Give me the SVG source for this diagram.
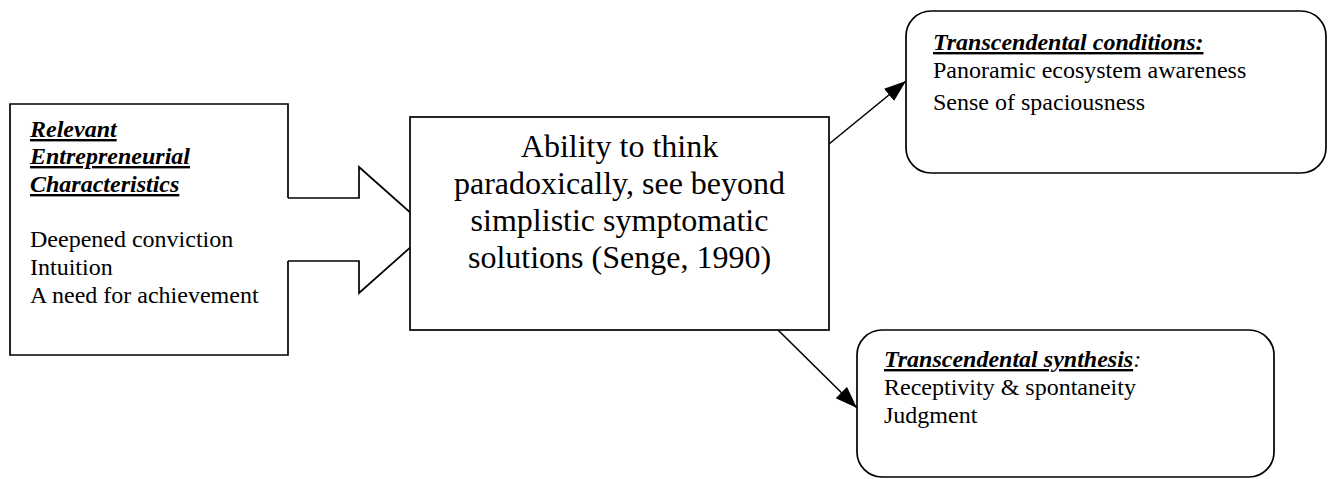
<svg xmlns="http://www.w3.org/2000/svg" width="1328" height="479" viewBox="0 0 1328 479">
  <style>
    text { font-family: "Liberation Serif", "Times New Roman", serif; fill: #000; }
    .body { font-size: 24px; }
    .head { font-size: 24px; font-weight: bold; font-style: italic; }
    .ul { text-decoration: underline; }
    .big { font-size: 32px; text-anchor: middle; }
    .frame { fill: #fff; stroke: #000; stroke-width: 1.7; }
    .edge { fill: none; stroke: #000; stroke-width: 1.6; }
  </style>
  <defs>
    <marker id="arrow" markerUnits="userSpaceOnUse" markerWidth="24" markerHeight="18" refX="22" refY="8" orient="auto">
      <path d="M0,0 L22,8 L0,16 z" fill="#000"/>
    </marker>
  </defs>

  <rect width="1328" height="479" fill="#fff"/>

  <!-- connectors -->
  <g id="connectors">
    <path id="block-arrow" d="M288,198 H359 V167 L430,230 L359,293 V261 H288" fill="#fff" stroke="#000" stroke-width="1.7" stroke-linejoin="miter"/>
    <line class="edge" x1="818" y1="153" x2="906" y2="81" marker-end="url(#arrow)"/>
    <line class="edge" x1="778" y1="330" x2="857" y2="408" marker-end="url(#arrow)"/>
  </g>

  <!-- left box: entrepreneurial characteristics -->
  <g id="characteristics">
    <path class="frame" d="M288,198 V104 H10 V355 H288 V261"/>
    <text class="head ul" x="30" y="137">Relevant</text>
    <text class="head ul" x="30" y="164">Entrepreneurial</text>
    <text class="head ul" x="30" y="192">Characteristics</text>
    <text class="body" x="30" y="247">Deepened conviction</text>
    <text class="body" x="30" y="275">Intuition</text>
    <text class="body" x="30" y="303">A need for achievement</text>
  </g>

  <!-- central box -->
  <g id="paradox">
    <rect class="frame" x="410" y="117" width="419" height="213"/>
    <text class="big" x="619.5" y="157">Ability to think</text>
    <text class="big" x="619.5" y="194">paradoxically, see beyond</text>
    <text class="big" x="619.5" y="231">simplistic symptomatic</text>
    <text class="big" x="619.5" y="268">solutions (Senge, 1990)</text>
  </g>

  <!-- upper right: transcendental conditions -->
  <g id="conditions">
    <rect class="frame" x="906" y="11" width="420" height="162" rx="25" ry="25"/>
    <text class="head ul" x="933" y="50">Transcendental conditions:</text>
    <text class="body" x="933" y="78">Panoramic ecosystem awareness</text>
    <text class="body" x="933" y="110">Sense of spaciousness</text>
  </g>

  <!-- lower right: transcendental synthesis -->
  <g id="synthesis">
    <rect class="frame" x="857" y="330" width="417" height="147" rx="25" ry="25"/>
    <text x="884" y="367" class="body"><tspan class="head ul">Transcendental synthesis</tspan><tspan font-style="italic">:</tspan></text>
    <text class="body" x="884" y="395">Receptivity &amp; spontaneity</text>
    <text class="body" x="884" y="423">Judgment</text>
  </g>
</svg>
